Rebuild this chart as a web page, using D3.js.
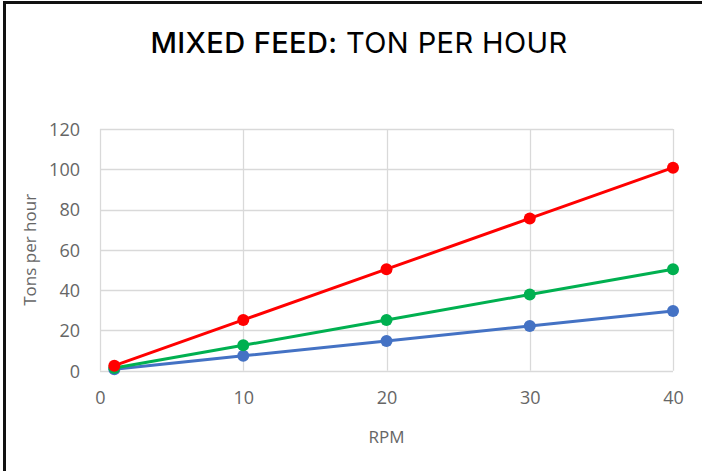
<!DOCTYPE html>
<html>
<head>
<meta charset="utf-8">
<script src="https://cdn.jsdelivr.net/npm/d3@7"></script>
<style>
  html, body { margin: 0; padding: 0; background: #fff; }
  svg { display: block; }
</style>
</head>
<body>
<svg id="chart" width="702" height="471"></svg>
<script>
const rpm = [1, 10, 20, 30, 40];
const redSeries = [2.5, 25.2, 50.4, 75.6, 100.8];
const greenSeries = [1.3, 12.6, 25.2, 37.8, 50.4];
const blueSeries = [0.7, 7.4, 14.8, 22.2, 29.6];
const xTicks = [0, 10, 20, 30, 40];
const yTicks = [0, 20, 40, 60, 80, 100, 120];

(function () {
const series = [
  { name: "blue", color: "#4472C4", values: blueSeries },
  { name: "green", color: "#00B050", values: greenSeries },
  { name: "red", color: "#FF0000", values: redSeries }
];

const svg = d3.select("#chart");
const W = 702, H = 471;
const pLeft = 100, pRight = 673, pTop = 129, pBottom = 370.7;

const x = d3.scaleLinear().domain([0, 40]).range([pLeft, pRight]);
const y = d3.scaleLinear().domain([0, 120]).range([pBottom, pTop]);

svg.append("rect").attr("width", W).attr("height", H).attr("fill", "#fff");

// border (only left & top visible)
svg.append("rect")
  .attr("x", 4.5).attr("y", 2.5)
  .attr("width", W + 20).attr("height", H + 20)
  .attr("fill", "none").attr("stroke", "#111").attr("stroke-width", 3);

// gridlines
const grid = svg.append("g");
grid.selectAll("line.h").data(yTicks).enter().append("line")
  .attr("x1", pLeft).attr("x2", pRight)
  .attr("y1", d => Math.round(y(d)) + 0.5).attr("y2", d => Math.round(y(d)) + 0.5)
  .attr("stroke", "#D9D9D9").attr("stroke-width", 1.3);
grid.selectAll("line.v").data(xTicks).enter().append("line")
  .attr("y1", pTop).attr("y2", pBottom)
  .attr("x1", d => Math.round(x(d)) + 0.5).attr("x2", d => Math.round(x(d)) + 0.5)
  .attr("stroke", "#D9D9D9").attr("stroke-width", 1.3);

// axes (labels only)
const tickFont = "'Open Sans', 'Noto Sans', sans-serif";
const tickColor = "#666666";
const xAxis = d3.axisBottom(x).tickValues(xTicks).tickSize(0).tickPadding(0);
const gx = svg.append("g").attr("transform", `translate(0,${pBottom})`).call(xAxis);
gx.select(".domain").remove();
gx.selectAll("text")
  .attr("y", 33).attr("dy", 0)
  .attr("fill", tickColor).style("font-family", tickFont).style("font-size", "18px");

const yAxis = d3.axisLeft(y).tickValues(yTicks).tickSize(0).tickPadding(0);
const gy = svg.append("g").attr("transform", `translate(${pLeft},0)`).call(yAxis);
gy.select(".domain").remove();
gy.selectAll("text")
  .attr("x", -20).attr("dy", "0.35em")
  .attr("fill", tickColor).style("font-family", tickFont).style("font-size", "18px");

// axis titles
svg.append("text")
  .attr("x", (pLeft + pRight) / 2).attr("y", 443)
  .attr("text-anchor", "middle")
  .attr("fill", tickColor).style("font-family", tickFont).style("font-size", "17px")
  .text("RPM");

svg.append("text")
  .attr("transform", `translate(36,${(pTop + pBottom) / 2}) rotate(-90)`)
  .attr("text-anchor", "middle")
  .attr("fill", tickColor).style("font-family", tickFont).style("font-size", "17px")
  .text("Tons per hour");

// title
const title = svg.append("text")
  .attr("x", 359).attr("y", 53)
  .attr("text-anchor", "middle")
  .attr("fill", "#000")
  .style("font-family", "Inter, Lato, sans-serif")
  .style("font-size", "29px")
  .style("letter-spacing", "0.4px");
title.append("tspan").style("font-weight", "500").text("MIXED FEED:");
title.append("tspan").style("font-weight", "400").text(" TON PER HOUR");

// lines & markers
const line = d3.line().x((d, i) => x(rpm[i])).y(d => y(d));
const gs = svg.append("g").selectAll("g").data(series).enter().append("g");
gs.append("path")
  .attr("d", d => line(d.values))
  .attr("fill", "none").attr("stroke", d => d.color)
  .attr("stroke-width", 3).attr("stroke-linejoin", "round");
gs.selectAll("circle").data(d => d.values.map((v, i) => ({ v, i, c: d.color }))).enter()
  .append("circle")
  .attr("cx", d => x(rpm[d.i])).attr("cy", d => y(d.v))
  .attr("r", 6).attr("fill", d => d.c);
})();
</script>
</body>
</html>
